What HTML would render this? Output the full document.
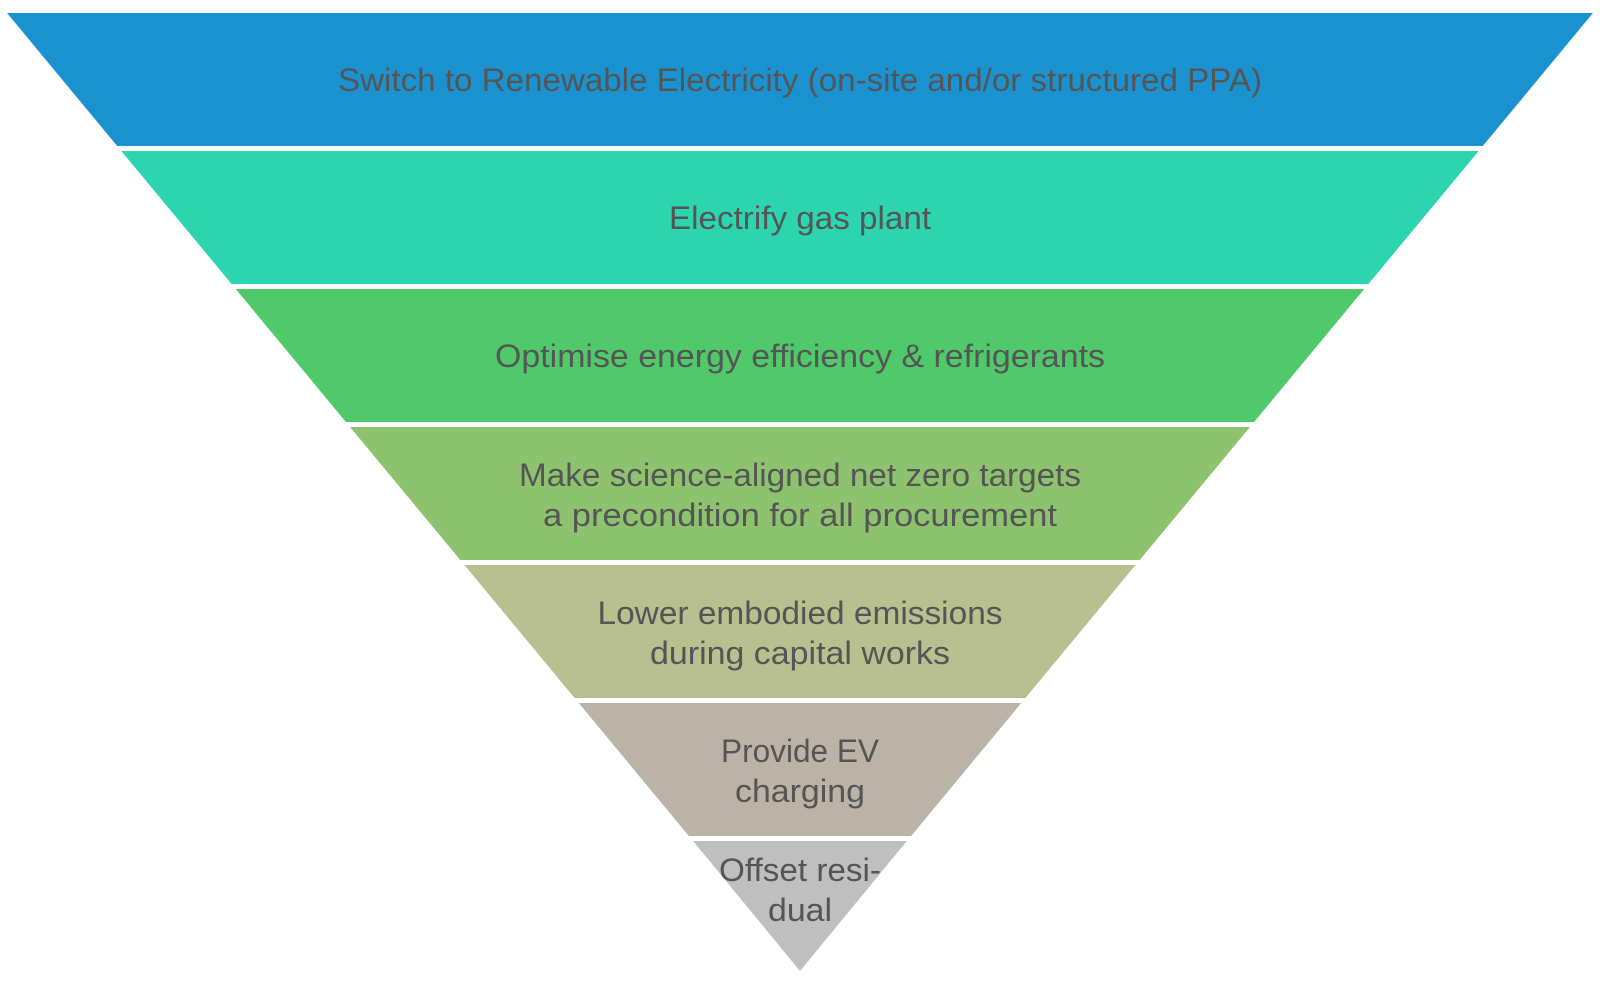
<!DOCTYPE html>
<html><head><meta charset="utf-8"><style>html,body{margin:0;padding:0;background:#fff}svg{display:block}</style></head>
<body>
<svg width="1600" height="986" viewBox="0 0 1600 986" xmlns="http://www.w3.org/2000/svg">
<g>
<polygon points="7,13 1593,13 1482.8,146 117.2,146" fill="#1a92d0"/>
<polygon points="121.3,151 1478.7,151 1368.4,284 231.6,284" fill="#2dd4b0"/>
<polygon points="235.7,289 1364.3,289 1254.1,422 345.9,422" fill="#50c96b"/>
<polygon points="350,427 1250,427 1139.7,560 460.3,560" fill="#8dc26f"/>
<polygon points="464.4,565 1135.6,565 1025.4,698 574.6,698" fill="#b8c08f"/>
<polygon points="578.7,703 1021.3,703 911.1,836 688.9,836" fill="#bbb3a5"/>
<polygon points="693.1,841 906.9,841 800,971" fill="#bfbfbf"/>
</g>
<g font-family="Liberation Sans, sans-serif" font-size="32" fill="#555" text-anchor="middle">
<text x="800" y="91" textLength="924" lengthAdjust="spacingAndGlyphs">Switch to Renewable Electricity (on-site and/or structured PPA)</text>
<text x="800" y="229" textLength="262" lengthAdjust="spacingAndGlyphs">Electrify gas plant</text>
<text x="800" y="367" textLength="610" lengthAdjust="spacingAndGlyphs">Optimise energy efficiency &amp; refrigerants</text>
<text x="800" y="486" textLength="562" lengthAdjust="spacingAndGlyphs">Make science-aligned net zero targets</text>
<text x="800" y="526" textLength="514" lengthAdjust="spacingAndGlyphs">a precondition for all procurement</text>
<text x="800" y="624" textLength="405" lengthAdjust="spacingAndGlyphs">Lower embodied emissions</text>
<text x="800" y="664" textLength="300" lengthAdjust="spacingAndGlyphs">during capital works</text>
<text x="800" y="762" textLength="158" lengthAdjust="spacingAndGlyphs">Provide EV</text>
<text x="800" y="802" textLength="130" lengthAdjust="spacingAndGlyphs">charging</text>
<text x="800" y="881" textLength="162" lengthAdjust="spacingAndGlyphs">Offset resi-</text>
<text x="800" y="921" textLength="64" lengthAdjust="spacingAndGlyphs">dual</text>
</g>
</svg>
</body></html>
